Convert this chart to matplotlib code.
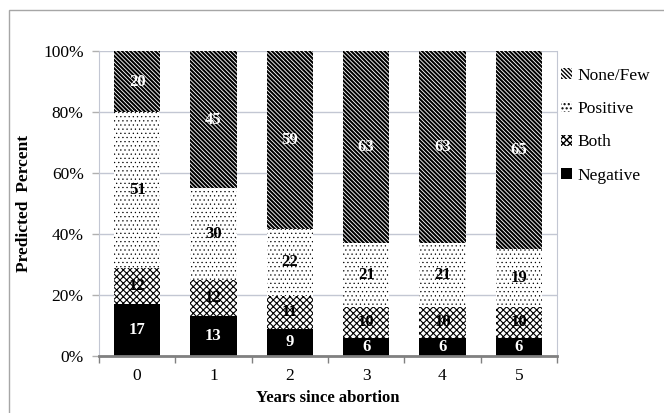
import matplotlib
matplotlib.use('Agg')
from matplotlib import pyplot as plt
from matplotlib.patches import Rectangle
import numpy as np

plt.rcParams['font.family'] = ['Liberation Serif', 'DejaVu Serif']

years = ['0', '1', '2', '3', '4', '5']
negative = [17, 13, 9, 6, 6, 6]
both = [12, 12, 11, 10, 10, 10]
positive = [51, 30, 22, 21, 21, 19]
none_few = [20, 45, 59, 63, 63, 65]

# name, values, face colour, hatch, hatch linewidth, label colour
series = [
    ('Negative', negative, 'black', None, 1.0, 'white'),
    ('Both', both, 'white', 'xxxxx', 0.8, 'black'),
    ('Positive', positive, 'white', '....', 0.4, 'black'),
    ('None/Few', none_few, 'white', '\\' * 8, 1.5, 'white'),
]

fig = plt.figure(figsize=(6.64, 4.13), dpi=100, facecolor='white')
# chart area border
fig.patches.append(Rectangle((9 / 664, -0.2), 1.2, 1.2 - 10 / 413,
                             transform=fig.transFigure, fill=False,
                             edgecolor='#a6a6a6', linewidth=1.0))
ax = fig.add_axes([99 / 664, 1 - 356 / 413, 458 / 664, 305 / 413])

x = np.arange(len(years))
totals = np.sum([negative, both, positive, none_few], axis=0)
bottom = np.zeros(len(years))
handles = []
for name, vals, fc, hatch, hlw, tc in series:
    h = np.array(vals) / totals * 100
    with plt.rc_context({'hatch.linewidth': hlw}):
        bars = ax.bar(x, h, 0.61, bottom=bottom, color=fc, hatch=hatch,
                      edgecolor='black', linewidth=0, label=name, zorder=2)
    handles.append(bars)
    for xi, b, hi, v in zip(x, bottom, h, vals):
        ax.text(xi, b + hi / 2, str(v), ha='center', va='center',
                color=tc, fontsize=12, fontweight='bold', zorder=3)
    bottom += h

ax.set_xlim(-0.5, len(years) - 0.5)
ax.set_ylim(0, 100)
ax.set_yticks(range(0, 101, 20))
ax.set_yticklabels(['%d%%' % v for v in range(0, 101, 20)], fontsize=12.5)
ax.set_xticks(x)
ax.set_xticklabels(years, fontsize=12.5)
ax.set_xticks(np.arange(-0.5, len(years)), minor=True)
ax.tick_params(axis='x', which='major', length=0, pad=9)
ax.tick_params(axis='x', which='minor', length=5, color='#808080', width=1)
ax.tick_params(axis='y', length=5, color='#b0b0b0', width=1, pad=6)
ax.grid(axis='y', color='#c3c7d3', linewidth=1, zorder=0)
ax.set_axisbelow(True)
ax.spines['top'].set_visible(False)
ax.spines['left'].set_color('#c3c7d3')
ax.spines['right'].set_color('#c3c7d3')
ax.spines['bottom'].set_color('#808080')
ax.spines['bottom'].set_linewidth(2)

ax.set_xlabel('Years since abortion', fontsize=12, fontweight='bold', labelpad=4)
ax.set_ylabel('Predicted  Percent', fontsize=12.5, fontweight='bold', labelpad=8)

with plt.rc_context({'hatch.linewidth': 1.0}):
    leg = ax.legend(handles[::-1], [s[0] for s in series][::-1], loc='upper left',
                    bbox_to_anchor=(0.983, 0.985), frameon=False, fontsize=12.5,
                    handlelength=0.6, handleheight=0.6, handletextpad=0.3,
                    labelspacing=1.0, borderaxespad=0.3)

fig.savefig('out.png', dpi=100, facecolor='white')
